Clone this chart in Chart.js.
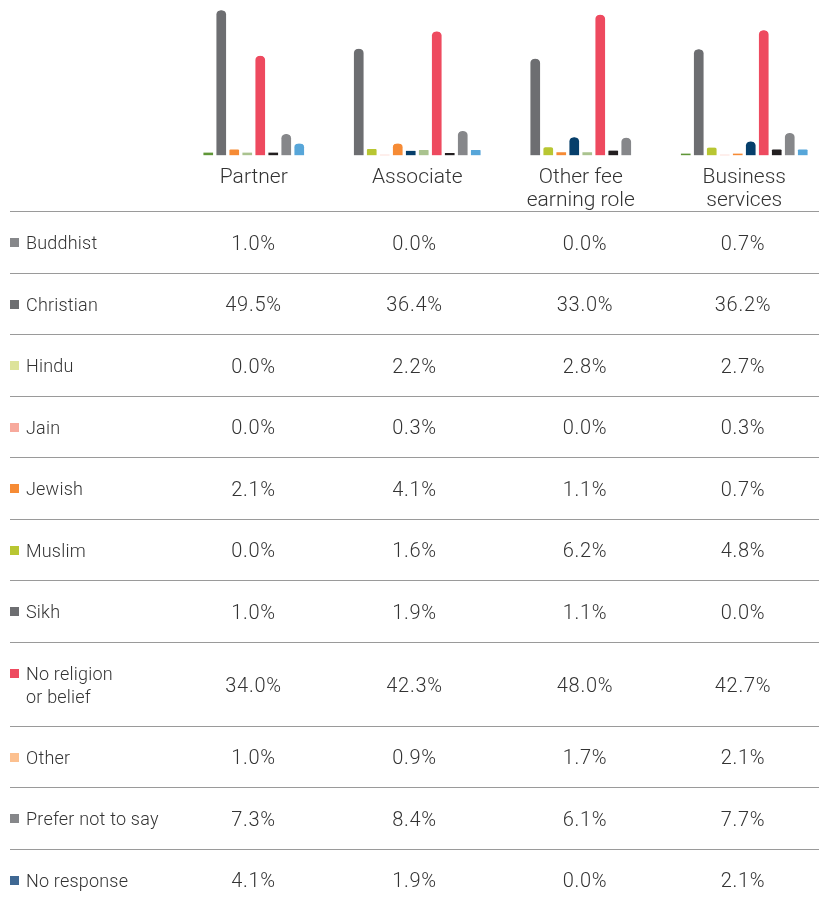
<!DOCTYPE html>
<html lang="en">
<head>
  <meta charset="UTF-8">
  <title>Religion by role</title>
  <script src="https://cdn.jsdelivr.net/npm/chart.js"></script>
  <style>
    body { margin: 0; background: #fff; width: 819px; height: 907px; overflow: hidden; position: relative;
           font-family: Roboto, "Liberation Sans", sans-serif; font-weight: 300; color: #333; }
    #chartBox { position: absolute; left: 172px; top: 0; width: 654px; height: 215px; }
    .row { position: absolute; left: 10px; width: 809px; border-top: 1px solid #9a9a9a; }
    .label { position: absolute; left: 16px; font-size: 18px; line-height: 23px; letter-spacing: 0.2px; white-space: nowrap; }
    .sq { position: absolute; left: 0; width: 9px; height: 9px; }
    .val { position: absolute; font-size: 20px; line-height: 24px; letter-spacing: 0.7px; transform: translateX(-50%); white-space: nowrap; }
  </style>
</head>
<body>
<div id="chartBox"><canvas id="bars" width="654" height="215"></canvas></div>
<div id="table"></div>

<script>
  // roles (columns) and religions (rows)
  var roles = [['Partner'], ['Associate'], ['Other fee', 'earning role'], ['Business', 'services']];
  var religions = [['Buddhist'], ['Christian'], ['Hindu'], ['Jain'], ['Jewish'], ['Muslim'], ['Sikh'],
                   ['No religion', 'or belief'], ['Other'], ['Prefer not to say'], ['No response']];

  // % per religion, in the order above
  var partner   = [1.0, 49.5, 0.0, 0.0, 2.1, 0.0, 1.0, 34.0, 1.0, 7.3, 4.1];
  var associate = [0.0, 36.4, 2.2, 0.3, 4.1, 1.6, 1.9, 42.3, 0.9, 8.4, 1.9];
  var otherFee  = [0.0, 33.0, 2.8, 0.0, 1.1, 6.2, 1.1, 48.0, 1.7, 6.1, 0.0];
  var business  = [0.7, 36.2, 2.7, 0.3, 0.7, 4.8, 0.0, 42.7, 2.1, 7.7, 2.1];

  // bar colours (top chart) and the little squares in the table
  var barColors = ['#5f9637', '#6d6e71', '#b8c632', '#f7a99c', '#f68b35', '#063f6b',
                   '#aac38f', '#ee4a5f', '#231f20', '#86878a', '#57a6d9'];
  var keyColors = ['#86878a', '#6d6e71', '#dde39a', '#f7a99c', '#f68b35', '#b8c632',
                   '#6d6e71', '#ee4a5f', '#fcc08f', '#86878a', '#3f6893'];

  var columns = [partner, associate, otherFee, business];

  // one dataset per religion, zero values left out so the bars close up
  var datasets = religions.map(function(r, i) {
    return {
      label: r.join(' '),
      data: columns.map(function(col) { return col[i] === 0 ? null : col[i]; }),
      backgroundColor: barColors[i],
      borderColor: '#fff',
      borderWidth: { left: 2, right: 2, top: 0, bottom: 0 },
      borderRadius: 6.5,
      borderSkipped: 'start',
      barThickness: 13,
      skipNull: true
    };
  });

  Chart.defaults.font.family = 'Roboto, "Liberation Sans", sans-serif';
  Chart.defaults.font.weight = 300;
  Chart.defaults.color = '#333';

  new Chart(document.getElementById('bars'), {
    type: 'bar',
    data: { labels: roles, datasets: datasets },
    options: {
      responsive: false,
      animation: false,
      layout: { padding: 0 },
      plugins: { legend: { display: false }, tooltip: { enabled: false } },
      scales: {
        x: {
          grid: { display: false },
          border: { display: false },
          ticks: { font: { size: 21, lineHeight: 1.13 }, padding: 2, maxRotation: 0 }
        },
        y: { display: false, min: 0, max: 53 }
      }
    }
  });

  // table under the chart
  var colCenters = [253.5, 414.5, 585, 743];
  var rowHeights = [61.5, 61.5, 61.5, 61.5, 61.5, 61.5, 61.5, 84, 61.5, 61.5, 61.5];
  var table = document.getElementById('table');
  var rowTop = 211;
  religions.forEach(function(r, i) {
    var h = rowHeights[i];
    var row = document.createElement('div');
    row.className = 'row';
    row.style.top = rowTop + 'px';
    row.style.height = h + 'px';

    var mid = h / 2;
    var lab = document.createElement('div');
    lab.className = 'label';
    lab.innerHTML = r.join('<br>');
    lab.style.top = (mid - r.length * 23 / 2) + 'px';
    row.appendChild(lab);

    var sq = document.createElement('div');
    sq.className = 'sq';
    sq.style.background = keyColors[i];
    sq.style.top = (mid - r.length * 23 / 2 + 7) + 'px';
    row.appendChild(sq);

    columns.forEach(function(col, c) {
      var v = document.createElement('div');
      v.className = 'val';
      v.textContent = col[i].toFixed(1) + '%';
      v.style.left = (colCenters[c] - 10) + 'px';
      v.style.top = (mid - 12) + 'px';
      row.appendChild(v);
    });

    table.appendChild(row);
    rowTop += h;
  });
</script>
</body>
</html>
